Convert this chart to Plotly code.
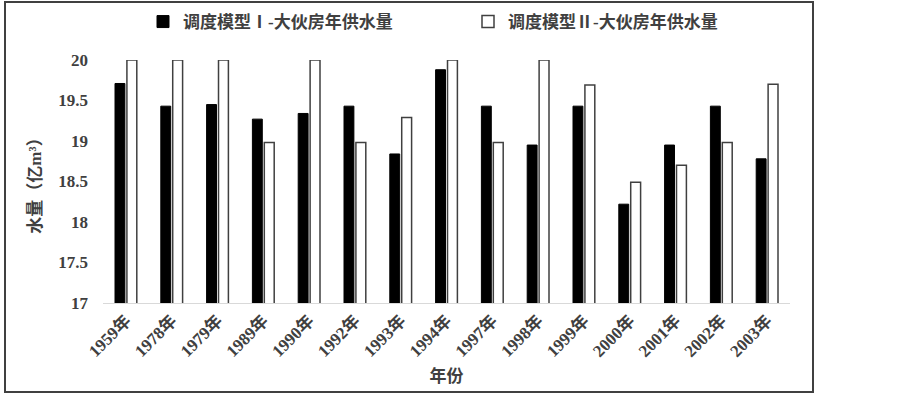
import plotly.graph_objects as go

years = ["1959年", "1978年", "1979年", "1989年", "1990年", "1992年", "1993年", "1994年",
         "1997年", "1998年", "1999年", "2000年", "2001年", "2002年", "2003年"]
model1 = [19.71, 19.43, 19.45, 19.27, 19.34, 19.43, 18.84, 19.88,
          19.43, 18.95, 19.43, 18.22, 18.95, 19.43, 18.78]
model2 = [20.0, 20.0, 20.0, 18.98, 20.0, 18.98, 19.29, 20.0,
          18.98, 20.0, 19.69, 18.49, 18.70, 18.98, 19.70]
name1 = "调度模型Ⅰ-大伙房年供水量"
name2 = "调度模型Ⅱ-大伙房年供水量"

FONT = "Liberation Serif, Noto Sans CJK SC, serif"
TXT = "#404040"

fig = go.Figure()
fig.add_trace(go.Bar(x=years, y=model1, name=name1, legend="legend",
                     marker=dict(color="black", line=dict(color="black", width=1))))
fig.add_trace(go.Bar(x=years, y=model2, name=name2, legend="legend2",
                     marker=dict(color="white", line=dict(color="#404040", width=1.5))))

L, R, T, B = 103, 113, 60, 91
W, H = 903, 394
pw, ph = W - L - R, H - T - B

def px_x(p):
    return (p - L) / pw

def px_y(p):
    return 1 - (p - T) / ph

legfont = dict(family=FONT, size=17, color=TXT, weight="bold")

fig.update_layout(
    width=W, height=H,
    margin=dict(l=L, r=R, t=T, b=B, autoexpand=False),
    paper_bgcolor="white", plot_bgcolor="white",
    barmode="group", bargap=0.48, bargroupgap=0.17,
    font=dict(family=FONT, color=TXT, size=15),
    showlegend=True,
    legend=dict(orientation="h", xref="container", yref="container",
                x=143 / W, xanchor="left", y=1 - 22 / H, yanchor="middle",
                font=legfont, bgcolor="rgba(0,0,0,0)"),
    legend2=dict(orientation="h", xref="container", yref="container",
                 x=468 / W, xanchor="left", y=1 - 22 / H, yanchor="middle",
                 font=legfont, bgcolor="rgba(0,0,0,0)"),
    xaxis=dict(showline=True, linecolor="#d9d9d9", linewidth=1, showgrid=False,
               ticks="", tickangle=-45,
               tickfont=dict(family=FONT, size=17, color=TXT, weight="bold"),
               title=dict(text="年份", font=dict(family=FONT, size=17, color=TXT, weight="bold"),
                          standoff=10)),
    yaxis=dict(range=[17, 20], dtick=0.5, showgrid=False, zeroline=False, showline=False,
               ticks="", ticklabelstandoff=14,
               tickfont=dict(family=FONT, size=17, color=TXT, weight="bold"),
               title=dict(text="水量（亿m³）", font=dict(family=FONT, size=17, color=TXT, weight="bold"),
                          standoff=12)),
    shapes=[dict(type="rect", xref="paper", yref="paper",
                 x0=px_x(5), x1=px_x(813), y0=px_y(392), y1=px_y(2),
                 line=dict(color="#404040", width=2), fillcolor="rgba(0,0,0,0)", layer="below")],
)

fig.write_html("out.html", config={"displayModeBar": False},
               post_script="document.body.style.margin='0';")
